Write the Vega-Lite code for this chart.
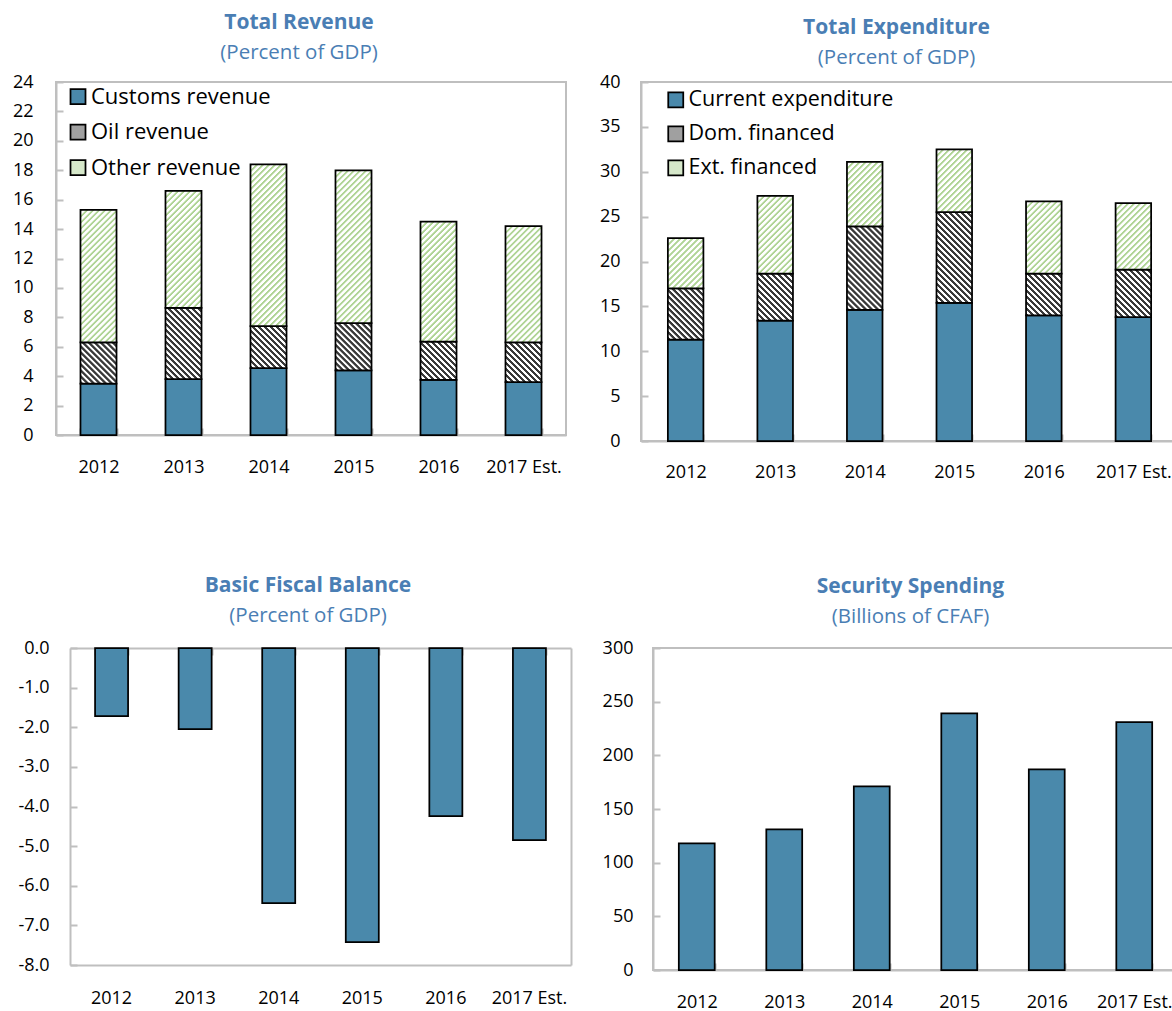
{
  "$schema": "https://vega.github.io/schema/vega-lite/v6.json",
  "padding": {"left": 11, "top": 10, "right": 0, "bottom": 0},
  "params": [
    {"name": "gstops", "value": [
      {"offset":0.0005,"color":"#b0d496"},{"offset":0.0075,"color":"#b0d496"},{"offset":0.011,"color":"#ffffff"},{"offset":0.0215,"color":"#ffffff"},
      {"offset":0.0255,"color":"#b0d496"},{"offset":0.0325,"color":"#b0d496"},{"offset":0.036,"color":"#ffffff"},{"offset":0.0465,"color":"#ffffff"},
      {"offset":0.0505,"color":"#b0d496"},{"offset":0.0575,"color":"#b0d496"},{"offset":0.061,"color":"#ffffff"},{"offset":0.0715,"color":"#ffffff"},
      {"offset":0.0755,"color":"#b0d496"},{"offset":0.0825,"color":"#b0d496"},{"offset":0.086,"color":"#ffffff"},{"offset":0.0965,"color":"#ffffff"},
      {"offset":0.1005,"color":"#b0d496"},{"offset":0.1075,"color":"#b0d496"},{"offset":0.111,"color":"#ffffff"},{"offset":0.1215,"color":"#ffffff"},
      {"offset":0.1255,"color":"#b0d496"},{"offset":0.1325,"color":"#b0d496"},{"offset":0.136,"color":"#ffffff"},{"offset":0.1465,"color":"#ffffff"},
      {"offset":0.1505,"color":"#b0d496"},{"offset":0.1575,"color":"#b0d496"},{"offset":0.161,"color":"#ffffff"},{"offset":0.1715,"color":"#ffffff"},
      {"offset":0.1755,"color":"#b0d496"},{"offset":0.1825,"color":"#b0d496"},{"offset":0.186,"color":"#ffffff"},{"offset":0.1965,"color":"#ffffff"},
      {"offset":0.2005,"color":"#b0d496"},{"offset":0.2075,"color":"#b0d496"},{"offset":0.211,"color":"#ffffff"},{"offset":0.2215,"color":"#ffffff"},
      {"offset":0.2255,"color":"#b0d496"},{"offset":0.2325,"color":"#b0d496"},{"offset":0.236,"color":"#ffffff"},{"offset":0.2465,"color":"#ffffff"},
      {"offset":0.2505,"color":"#b0d496"},{"offset":0.2575,"color":"#b0d496"},{"offset":0.261,"color":"#ffffff"},{"offset":0.2715,"color":"#ffffff"},
      {"offset":0.2755,"color":"#b0d496"},{"offset":0.2825,"color":"#b0d496"},{"offset":0.286,"color":"#ffffff"},{"offset":0.2965,"color":"#ffffff"},
      {"offset":0.3005,"color":"#b0d496"},{"offset":0.3075,"color":"#b0d496"},{"offset":0.311,"color":"#ffffff"},{"offset":0.3215,"color":"#ffffff"},
      {"offset":0.3255,"color":"#b0d496"},{"offset":0.3325,"color":"#b0d496"},{"offset":0.336,"color":"#ffffff"},{"offset":0.3465,"color":"#ffffff"},
      {"offset":0.3505,"color":"#b0d496"},{"offset":0.3575,"color":"#b0d496"},{"offset":0.361,"color":"#ffffff"},{"offset":0.3715,"color":"#ffffff"},
      {"offset":0.3755,"color":"#b0d496"},{"offset":0.3825,"color":"#b0d496"},{"offset":0.386,"color":"#ffffff"},{"offset":0.3965,"color":"#ffffff"},
      {"offset":0.4005,"color":"#b0d496"},{"offset":0.4075,"color":"#b0d496"},{"offset":0.411,"color":"#ffffff"},{"offset":0.4215,"color":"#ffffff"},
      {"offset":0.4255,"color":"#b0d496"},{"offset":0.4325,"color":"#b0d496"},{"offset":0.436,"color":"#ffffff"},{"offset":0.4465,"color":"#ffffff"},
      {"offset":0.4505,"color":"#b0d496"},{"offset":0.4575,"color":"#b0d496"},{"offset":0.461,"color":"#ffffff"},{"offset":0.4715,"color":"#ffffff"},
      {"offset":0.4755,"color":"#b0d496"},{"offset":0.4825,"color":"#b0d496"},{"offset":0.486,"color":"#ffffff"},{"offset":0.4965,"color":"#ffffff"},
      {"offset":0.5005,"color":"#b0d496"},{"offset":0.5075,"color":"#b0d496"},{"offset":0.511,"color":"#ffffff"},{"offset":0.5215,"color":"#ffffff"},
      {"offset":0.5255,"color":"#b0d496"},{"offset":0.5325,"color":"#b0d496"},{"offset":0.536,"color":"#ffffff"},{"offset":0.5465,"color":"#ffffff"},
      {"offset":0.5505,"color":"#b0d496"},{"offset":0.5575,"color":"#b0d496"},{"offset":0.561,"color":"#ffffff"},{"offset":0.5715,"color":"#ffffff"},
      {"offset":0.5755,"color":"#b0d496"},{"offset":0.5825,"color":"#b0d496"},{"offset":0.586,"color":"#ffffff"},{"offset":0.5965,"color":"#ffffff"},
      {"offset":0.6005,"color":"#b0d496"},{"offset":0.6075,"color":"#b0d496"},{"offset":0.611,"color":"#ffffff"},{"offset":0.6215,"color":"#ffffff"},
      {"offset":0.6255,"color":"#b0d496"},{"offset":0.6325,"color":"#b0d496"},{"offset":0.636,"color":"#ffffff"},{"offset":0.6465,"color":"#ffffff"},
      {"offset":0.6505,"color":"#b0d496"},{"offset":0.6575,"color":"#b0d496"},{"offset":0.661,"color":"#ffffff"},{"offset":0.6715,"color":"#ffffff"},
      {"offset":0.6755,"color":"#b0d496"},{"offset":0.6825,"color":"#b0d496"},{"offset":0.686,"color":"#ffffff"},{"offset":0.6965,"color":"#ffffff"},
      {"offset":0.7005,"color":"#b0d496"},{"offset":0.7075,"color":"#b0d496"},{"offset":0.711,"color":"#ffffff"},{"offset":0.7215,"color":"#ffffff"},
      {"offset":0.7255,"color":"#b0d496"},{"offset":0.7325,"color":"#b0d496"},{"offset":0.736,"color":"#ffffff"},{"offset":0.7465,"color":"#ffffff"},
      {"offset":0.7505,"color":"#b0d496"},{"offset":0.7575,"color":"#b0d496"},{"offset":0.761,"color":"#ffffff"},{"offset":0.7715,"color":"#ffffff"},
      {"offset":0.7755,"color":"#b0d496"},{"offset":0.7825,"color":"#b0d496"},{"offset":0.786,"color":"#ffffff"},{"offset":0.7965,"color":"#ffffff"},
      {"offset":0.8005,"color":"#b0d496"},{"offset":0.8075,"color":"#b0d496"},{"offset":0.811,"color":"#ffffff"},{"offset":0.8215,"color":"#ffffff"},
      {"offset":0.8255,"color":"#b0d496"},{"offset":0.8325,"color":"#b0d496"},{"offset":0.836,"color":"#ffffff"},{"offset":0.8465,"color":"#ffffff"},
      {"offset":0.8505,"color":"#b0d496"},{"offset":0.8575,"color":"#b0d496"},{"offset":0.861,"color":"#ffffff"},{"offset":0.8715,"color":"#ffffff"},
      {"offset":0.8755,"color":"#b0d496"},{"offset":0.8825,"color":"#b0d496"},{"offset":0.886,"color":"#ffffff"},{"offset":0.8965,"color":"#ffffff"},
      {"offset":0.9005,"color":"#b0d496"},{"offset":0.9075,"color":"#b0d496"},{"offset":0.911,"color":"#ffffff"},{"offset":0.9215,"color":"#ffffff"},
      {"offset":0.9255,"color":"#b0d496"},{"offset":0.9325,"color":"#b0d496"},{"offset":0.936,"color":"#ffffff"},{"offset":0.9465,"color":"#ffffff"},
      {"offset":0.9505,"color":"#b0d496"},{"offset":0.9575,"color":"#b0d496"},{"offset":0.961,"color":"#ffffff"},{"offset":0.9715,"color":"#ffffff"},
      {"offset":0.9755,"color":"#b0d496"},{"offset":0.9825,"color":"#b0d496"},{"offset":0.986,"color":"#ffffff"},{"offset":0.9965,"color":"#ffffff"}
    ]},
    {"name": "ostops", "value": [
      {"offset":0.001,"color":"#3a3a3a"},{"offset":0.018,"color":"#3a3a3a"},{"offset":0.022,"color":"#ffffff"},{"offset":0.037,"color":"#ffffff"},
      {"offset":0.041,"color":"#3a3a3a"},{"offset":0.058,"color":"#3a3a3a"},{"offset":0.062,"color":"#ffffff"},{"offset":0.077,"color":"#ffffff"},
      {"offset":0.081,"color":"#3a3a3a"},{"offset":0.098,"color":"#3a3a3a"},{"offset":0.102,"color":"#ffffff"},{"offset":0.117,"color":"#ffffff"},
      {"offset":0.121,"color":"#3a3a3a"},{"offset":0.138,"color":"#3a3a3a"},{"offset":0.142,"color":"#ffffff"},{"offset":0.157,"color":"#ffffff"},
      {"offset":0.161,"color":"#3a3a3a"},{"offset":0.178,"color":"#3a3a3a"},{"offset":0.182,"color":"#ffffff"},{"offset":0.197,"color":"#ffffff"},
      {"offset":0.201,"color":"#3a3a3a"},{"offset":0.218,"color":"#3a3a3a"},{"offset":0.222,"color":"#ffffff"},{"offset":0.237,"color":"#ffffff"},
      {"offset":0.241,"color":"#3a3a3a"},{"offset":0.258,"color":"#3a3a3a"},{"offset":0.262,"color":"#ffffff"},{"offset":0.277,"color":"#ffffff"},
      {"offset":0.281,"color":"#3a3a3a"},{"offset":0.298,"color":"#3a3a3a"},{"offset":0.302,"color":"#ffffff"},{"offset":0.317,"color":"#ffffff"},
      {"offset":0.321,"color":"#3a3a3a"},{"offset":0.338,"color":"#3a3a3a"},{"offset":0.342,"color":"#ffffff"},{"offset":0.357,"color":"#ffffff"},
      {"offset":0.361,"color":"#3a3a3a"},{"offset":0.378,"color":"#3a3a3a"},{"offset":0.382,"color":"#ffffff"},{"offset":0.397,"color":"#ffffff"},
      {"offset":0.401,"color":"#3a3a3a"},{"offset":0.418,"color":"#3a3a3a"},{"offset":0.422,"color":"#ffffff"},{"offset":0.437,"color":"#ffffff"},
      {"offset":0.441,"color":"#3a3a3a"},{"offset":0.458,"color":"#3a3a3a"},{"offset":0.462,"color":"#ffffff"},{"offset":0.477,"color":"#ffffff"},
      {"offset":0.481,"color":"#3a3a3a"},{"offset":0.498,"color":"#3a3a3a"},{"offset":0.502,"color":"#ffffff"},{"offset":0.517,"color":"#ffffff"},
      {"offset":0.521,"color":"#3a3a3a"},{"offset":0.538,"color":"#3a3a3a"},{"offset":0.542,"color":"#ffffff"},{"offset":0.557,"color":"#ffffff"},
      {"offset":0.561,"color":"#3a3a3a"},{"offset":0.578,"color":"#3a3a3a"},{"offset":0.582,"color":"#ffffff"},{"offset":0.597,"color":"#ffffff"},
      {"offset":0.601,"color":"#3a3a3a"},{"offset":0.618,"color":"#3a3a3a"},{"offset":0.622,"color":"#ffffff"},{"offset":0.637,"color":"#ffffff"},
      {"offset":0.641,"color":"#3a3a3a"},{"offset":0.658,"color":"#3a3a3a"},{"offset":0.662,"color":"#ffffff"},{"offset":0.677,"color":"#ffffff"},
      {"offset":0.681,"color":"#3a3a3a"},{"offset":0.698,"color":"#3a3a3a"},{"offset":0.702,"color":"#ffffff"},{"offset":0.717,"color":"#ffffff"},
      {"offset":0.721,"color":"#3a3a3a"},{"offset":0.738,"color":"#3a3a3a"},{"offset":0.742,"color":"#ffffff"},{"offset":0.757,"color":"#ffffff"},
      {"offset":0.761,"color":"#3a3a3a"},{"offset":0.778,"color":"#3a3a3a"},{"offset":0.782,"color":"#ffffff"},{"offset":0.797,"color":"#ffffff"},
      {"offset":0.801,"color":"#3a3a3a"},{"offset":0.818,"color":"#3a3a3a"},{"offset":0.822,"color":"#ffffff"},{"offset":0.837,"color":"#ffffff"},
      {"offset":0.841,"color":"#3a3a3a"},{"offset":0.858,"color":"#3a3a3a"},{"offset":0.862,"color":"#ffffff"},{"offset":0.877,"color":"#ffffff"},
      {"offset":0.881,"color":"#3a3a3a"},{"offset":0.898,"color":"#3a3a3a"},{"offset":0.902,"color":"#ffffff"},{"offset":0.917,"color":"#ffffff"},
      {"offset":0.921,"color":"#3a3a3a"},{"offset":0.938,"color":"#3a3a3a"},{"offset":0.942,"color":"#ffffff"},{"offset":0.957,"color":"#ffffff"},
      {"offset":0.961,"color":"#3a3a3a"},{"offset":0.978,"color":"#3a3a3a"},{"offset":0.982,"color":"#ffffff"},{"offset":0.997,"color":"#ffffff"}
    ]}
  ],
  "datasets": {
    "rev": [
      {"year":"2012","series":"Customs revenue","value":3.5},
      {"year":"2012","series":"Oil revenue","value":2.8},
      {"year":"2012","series":"Other revenue","value":9.0},
      {"year":"2013","series":"Customs revenue","value":3.8},
      {"year":"2013","series":"Oil revenue","value":4.85},
      {"year":"2013","series":"Other revenue","value":7.95},
      {"year":"2014","series":"Customs revenue","value":4.55},
      {"year":"2014","series":"Oil revenue","value":2.85},
      {"year":"2014","series":"Other revenue","value":11.0},
      {"year":"2015","series":"Customs revenue","value":4.4},
      {"year":"2015","series":"Oil revenue","value":3.2},
      {"year":"2015","series":"Other revenue","value":10.4},
      {"year":"2016","series":"Customs revenue","value":3.75},
      {"year":"2016","series":"Oil revenue","value":2.6},
      {"year":"2016","series":"Other revenue","value":8.15},
      {"year":"2017 Est.","series":"Customs revenue","value":3.6},
      {"year":"2017 Est.","series":"Oil revenue","value":2.7},
      {"year":"2017 Est.","series":"Other revenue","value":7.9}
    ],
    "exp": [
      {"year":"2012","series":"Current expenditure","value":11.3},
      {"year":"2012","series":"Dom. financed","value":5.7},
      {"year":"2012","series":"Ext. financed","value":5.6},
      {"year":"2013","series":"Current expenditure","value":13.4},
      {"year":"2013","series":"Dom. financed","value":5.25},
      {"year":"2013","series":"Ext. financed","value":8.65},
      {"year":"2014","series":"Current expenditure","value":14.6},
      {"year":"2014","series":"Dom. financed","value":9.3},
      {"year":"2014","series":"Ext. financed","value":7.2},
      {"year":"2015","series":"Current expenditure","value":15.4},
      {"year":"2015","series":"Dom. financed","value":10.1},
      {"year":"2015","series":"Ext. financed","value":7.0},
      {"year":"2016","series":"Current expenditure","value":14.0},
      {"year":"2016","series":"Dom. financed","value":4.65},
      {"year":"2016","series":"Ext. financed","value":8.05},
      {"year":"2017 Est.","series":"Current expenditure","value":13.8},
      {"year":"2017 Est.","series":"Dom. financed","value":5.3},
      {"year":"2017 Est.","series":"Ext. financed","value":7.4}
    ],
    "bal": [
      {"year":"2012","value":-1.72},
      {"year":"2013","value":-2.05},
      {"year":"2014","value":-6.44},
      {"year":"2015","value":-7.42},
      {"year":"2016","value":-4.24},
      {"year":"2017 Est.","value":-4.85}
    ],
    "sec": [
      {"year":"2012","value":118},
      {"year":"2013","value":131},
      {"year":"2014","value":171},
      {"year":"2015","value":239},
      {"year":"2016","value":187},
      {"year":"2017 Est.","value":231}
    ]
  },
  "config": {
    "font": "Open Sans",
    "view": {"stroke": "#bfbfbf", "strokeWidth": 2},
    "axis": {"labelFont": "Open Sans", "labelFontSize": 18, "labelColor": "#000000", "domainColor": "#bfbfbf", "domainWidth": 2, "tickColor": "#bfbfbf", "tickWidth": 2, "grid": false, "title": null, "labelOverlap": false},
    "title": {"font": "Open Sans", "fontSize": 21, "fontWeight": "bold", "color": "#4a7eb4", "subtitleFont": "Open Sans", "subtitleFontSize": 20.5, "subtitleColor": "#4a7eb4", "subtitlePadding": 10, "anchor": "middle", "frame": "group"},
    "legend": {"labelFont": "Open Sans", "labelFontSize": 22, "labelColor": "#000000", "labelLimit": 400, "symbolType": "square", "symbolSize": 225, "symbolStrokeColor": "#000000", "symbolStrokeWidth": 1.5, "symbolOpacity": 1, "rowPadding": 13.5, "labelOffset": 2, "padding": 0, "orient": "none"},
    "bar": {"stroke": "#000000", "strokeWidth": 1.75}
  },
  "columns": 1,
  "spacing": 92,
  "concat": [
    {
      "bounds": "flush",
      "spacing": 75,
      "resolve": {"scale": {"fill": "independent"}, "legend": {"fill": "independent"}},
      "hconcat": [
        {
          "width": 510, "height": 353,
          "title": {"text": "Total Revenue", "subtitle": "(Percent of GDP)", "offset": 10, "dx": -12},
          "data": {"name": "rev"},
          "mark": {"type": "bar"},
          "encoding": {
            "x": {"field": "year", "type": "ordinal", "sort": null, "scale": {"paddingInner": 0.576, "paddingOuter": 0.288}, "axis": {"labelAngle": 0, "tickBand": "extent", "tickSize": -7, "labelPadding": 30}},
            "y": {"field": "value", "type": "quantitative", "stack": "zero", "scale": {"domain": [0, 24], "nice": false}, "axis": {"values": [0,2,4,6,8,10,12,14,16,18,20,22,24], "tickSize": -7, "labelPadding": 30, "minExtent": 44}},
            "order": {"field": "series", "type": "nominal", "sort": "ascending"},
            "fill": {
              "field": "series", "type": "nominal",
              "scale": {"domain": ["Customs revenue", "Oil revenue", "Other revenue"], "range": ["#4a89ab", "#a0a0a0", "#d6e8ca"]},
              "legend": {"title": null, "legendX": 11, "legendY": 3.5,
                "encode": {"symbols": {"update": {"fill": {"signal": "datum.value == 'Oil revenue' ? {gradient:'linear',x1:0,y1:1,x2:5,y2:-4,stops:ostops} : datum.value == 'Other revenue' ? {gradient:'linear',x1:0,y1:0,x2:8,y2:8,stops:gstops} : '#4a89ab'"}}}}},
              "condition": {"test": "datum.series != 'Customs revenue'", "value": {"expr": "datum.series == 'Oil revenue' ? {gradient:'linear',x1:0,y1:1,x2:150*36/(1296+pow(datum.value*14.708,2)),y2:1-150*datum.value*14.708/(1296+pow(datum.value*14.708,2)),stops:ostops} : {gradient:'linear',x1:0,y1:0,x2:240*36/(1296+pow(datum.value*14.708,2)),y2:240*datum.value*14.708/(1296+pow(datum.value*14.708,2)),stops:gstops}"}}
            }
          }
        },
        {
          "width": 537, "height": 359,
          "title": {"text": "Total Expenditure", "subtitle": "(Percent of GDP)", "offset": 5, "dx": -13},
          "data": {"name": "exp"},
          "mark": {"type": "bar"},
          "encoding": {
            "x": {"field": "year", "type": "ordinal", "sort": null, "scale": {"paddingInner": 0.603, "paddingOuter": 0.3}, "axis": {"labelAngle": 0, "tickBand": "extent", "tickSize": -7, "labelPadding": 29}},
            "y": {"field": "value", "type": "quantitative", "stack": "zero", "scale": {"domain": [0, 40], "nice": false}, "axis": {"values": [0,5,10,15,20,25,30,35,40], "tickSize": -7, "labelPadding": 28}},
            "order": {"field": "series", "type": "nominal", "sort": "ascending"},
            "fill": {
              "field": "series", "type": "nominal",
              "scale": {"domain": ["Current expenditure", "Dom. financed", "Ext. financed"], "range": ["#4a89ab", "#a0a0a0", "#d6e8ca"]},
              "legend": {"title": null, "legendX": 24, "legendY": 7, "rowPadding": 11, "labelFontSize": 21.5,
                "encode": {"symbols": {"update": {"fill": {"signal": "datum.value == 'Dom. financed' ? {gradient:'linear',x1:0,y1:1,x2:5,y2:-4,stops:ostops} : datum.value == 'Ext. financed' ? {gradient:'linear',x1:0,y1:0,x2:8,y2:8,stops:gstops} : '#4a89ab'"}}}}},
              "condition": {"test": "datum.series != 'Current expenditure'", "value": {"expr": "datum.series == 'Dom. financed' ? {gradient:'linear',x1:0,y1:1,x2:150*35.5/(1260.25+pow(datum.value*8.975,2)),y2:1-150*datum.value*8.975/(1260.25+pow(datum.value*8.975,2)),stops:ostops} : {gradient:'linear',x1:0,y1:0,x2:240*35.5/(1260.25+pow(datum.value*8.975,2)),y2:240*datum.value*8.975/(1260.25+pow(datum.value*8.975,2)),stops:gstops}"}}
            }
          }
        }
      ]
    },
    {
      "bounds": "flush",
      "spacing": 82,
      "hconcat": [
        {
          "width": 515, "height": 317,
          "view": {"stroke": null},
          "title": {"text": "Basic Fiscal Balance", "subtitle": "(Percent of GDP)", "offset": 13, "dx": -5.5},
          "data": {"name": "bal"},
          "layer": [
            {
              "mark": {"type": "bar", "fill": "#4a89ab"},
              "encoding": {
                "x": {"field": "year", "type": "ordinal", "sort": null, "scale": {"range": [14, 515], "paddingInner": 0.605, "paddingOuter": 0.3}, "axis": {"orient": "bottom", "labelAngle": 0, "ticks": false, "domain": true, "labelPadding": 24}},
                "y": {"field": "value", "type": "quantitative", "scale": {"domain": [-8, 0], "nice": false}, "axis": {"orient": "left", "offset": -14, "values": [-8,-7,-6,-5,-4,-3,-2,-1,0], "labelExpr": "datum.value == 0 ? '0.0' : '-' + format(-datum.value, '.1f')", "tickSize": -7, "labelPadding": 28}}
              }
            },
            {
              "mark": {"type": "bar", "opacity": 0},
              "encoding": {
                "x": {"field": "year", "type": "ordinal", "sort": null, "axis": {"orient": "top", "labels": false, "tickBand": "extent", "tickSize": -7}},
                "y": {"field": "value", "type": "quantitative", "axis": {"orient": "right", "labels": false, "ticks": false, "domain": true}}
              }
            }
          ],
          "resolve": {"axis": {"x": "independent", "y": "independent"}}
        },
        {
          "width": 525, "height": 322,
          "title": {"text": "Security Spending", "subtitle": "(Billions of CFAF)", "offset": 12, "dx": -5},
          "data": {"name": "sec"},
          "mark": {"type": "bar", "fill": "#4a89ab"},
          "encoding": {
            "x": {"field": "year", "type": "ordinal", "sort": null, "scale": {"paddingInner": 0.59, "paddingOuter": 0.295}, "axis": {"labelAngle": 0, "tickBand": "extent", "tickSize": -7, "labelPadding": 30}},
            "y": {"field": "value", "type": "quantitative", "scale": {"domain": [0, 300], "nice": false}, "axis": {"values": [0,50,100,150,200,250,300], "tickSize": -7, "labelPadding": 27}}
          }
        }
      ]
    }
  ]
}
